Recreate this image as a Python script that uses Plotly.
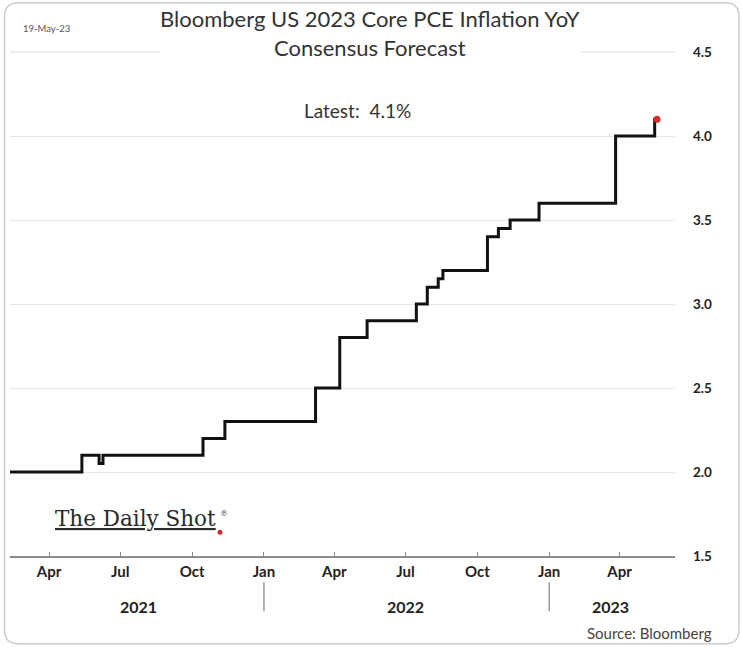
import plotly.graph_objects as go

# ---- data ----
dates = ["2021-02-10", "2021-05-13", "2021-06-04", "2021-06-09", "2021-10-15",
         "2021-11-12", "2022-03-08", "2022-04-08", "2022-05-13", "2022-07-15",
         "2022-07-29", "2022-08-12", "2022-08-18", "2022-10-14", "2022-10-28",
         "2022-11-12", "2022-12-19", "2023-03-27", "2023-05-16", "2023-05-19"]
values = [2.0, 2.1, 2.05, 2.1, 2.2, 2.3, 2.5, 2.8, 2.9, 3.0,
          3.1, 3.15, 3.2, 3.4, 3.45, 3.5, 3.6, 4.0, 4.1, 4.1]

x_tickvals = ["2021-04-01", "2021-07-01", "2021-10-01", "2022-01-01", "2022-04-01",
              "2022-07-01", "2022-10-01", "2023-01-01", "2023-04-01"]
x_ticktext = ["Apr", "Jul", "Oct", "Jan", "Apr", "Jul", "Oct", "Jan", "Apr"]
y_tickvals = [1.5, 2.0, 2.5, 3.0, 3.5, 4.0, 4.5]
years = ["2021", "2022", "2023"]
year_pos = ["2021-07-25", "2022-07-01", "2023-03-21"]
year_breaks = ["2022-01-01", "2023-01-01"]

# ---- layout geometry (pixels) ----
W, H = 742, 650
L, R, T, B = 10, 675, 51.7, 555.7


def px(x):
    return (x - L) / (R - L)


def py(y):
    return (B - y) / (B - T)


FONT = "Lato"

fig = go.Figure()
fig.add_trace(go.Scatter(x=dates, y=values, mode="lines",
                         line=dict(color="#111111", width=3, shape="hv"),
                         hoverinfo="skip", showlegend=False))
fig.add_trace(go.Scatter(x=[dates[-1]], y=[values[-1]], mode="markers",
                         marker=dict(color="#d62c2c", size=7),
                         hoverinfo="skip", showlegend=False))

fig.update_layout(
    width=W, height=H,
    margin=dict(l=L, r=W - R, t=T, b=H - B),
    paper_bgcolor="white", plot_bgcolor="white",
    font=dict(family=FONT, color="#222222"),
    xaxis=dict(range=["2021-02-10", "2023-06-11"], tickvals=x_tickvals, ticktext=x_ticktext,
               showgrid=False, showline=True, linecolor="#8a8a8a", linewidth=1.5,
               ticks="inside", ticklen=4, tickcolor="#8a8a8a", ticklabelstandoff=1,
               tickfont=dict(size=15, weight="bold", color="#222222"), zeroline=False),
    yaxis=dict(range=[1.5, 4.5], side="right", tickvals=y_tickvals, tickformat=".1f",
               showgrid=True, gridcolor="#e6e6e6", gridwidth=1, zeroline=False,
               showline=False, ticks="", ticklabelstandoff=17,
               tickfont=dict(size=13.5, weight="bold", color="#222222")),
)

ann = []
ann.append(dict(xref="paper", yref="paper", x=px(370), y=py(18),
                text="Bloomberg US 2023 Core PCE Inflation YoY",
                showarrow=False, font=dict(size=22, color="#333333", family=FONT),
                xanchor="center", yanchor="middle"))
ann.append(dict(xref="paper", yref="paper", x=px(370), y=py(47),
                text="Consensus Forecast",
                showarrow=False, font=dict(size=22, color="#333333", family=FONT),
                xanchor="center", yanchor="middle"))
ann.append(dict(xref="paper", yref="paper", x=px(46), y=py(28), text="19-May-23",
                showarrow=False, font=dict(size=9.5, color="#555555", family=FONT),
                xanchor="center", yanchor="middle"))
ann.append(dict(xref="paper", yref="paper", x=px(357), y=py(110), text="Latest:&nbsp; 4.1%",
                showarrow=False, font=dict(size=19, color="#333333", family=FONT),
                xanchor="center", yanchor="middle"))
ann.append(dict(xref="paper", yref="paper", x=px(53), y=py(518), xanchor="left", yanchor="middle",
                text="<u>The Daily Shot</u>", showarrow=False,
                font=dict(size=21.5, color="#2a2a2a", family="DejaVu Serif")))
ann.append(dict(xref="paper", yref="paper", x=px(224), y=py(513), text="®",
                xanchor="center", yanchor="middle",
                showarrow=False, font=dict(size=8, color="#333333", family="DejaVu Serif")))
ann.append(dict(xref="paper", yref="paper", x=px(714), y=py(633), xanchor="right", yanchor="middle",
                text="Source: Bloomberg", showarrow=False,
                font=dict(size=15, color="#444444", family=FONT)))
for yr, pos in zip(years, year_pos):
    ann.append(dict(xref="x", yref="paper", x=pos, y=py(606), text=yr, showarrow=False,
                    xanchor="center", yanchor="middle",
                    font=dict(size=16, weight="bold", color="#222222", family=FONT)))
fig.update_layout(annotations=ann)

shapes = []
# top gridline (plotly omits gridlines on the range edge)
shapes.append(dict(type="line", xref="paper", yref="paper", x0=0, x1=1, y0=1, y1=1,
                   line=dict(color="#e2e2e2", width=1.2), layer="above"))
# white block behind the title
shapes.append(dict(type="rect", xref="paper", yref="paper", x0=px(160), x1=px(580),
                   y0=py(62), y1=py(5), fillcolor="white", line=dict(width=0), layer="above"))
for b in year_breaks:
    shapes.append(dict(type="line", xref="x", yref="paper", x0=b, x1=b,
                       y0=py(582), y1=py(611), line=dict(color="#666666", width=1)))
# red dot of logo
shapes.append(dict(type="circle", xref="paper", yref="paper",
                   x0=px(217.5), x1=px(222.5), y0=py(534.5), y1=py(529.5),
                   fillcolor="#d62c2c", line=dict(width=0)))
# rounded outer border
x0, x1, y0, y1, r = 4.5, 739, 2.5, 643.5, 14
path = (f"M {px(x0 + r)},{py(y0)} L {px(x1 - r)},{py(y0)} Q {px(x1)},{py(y0)} {px(x1)},{py(y0 + r)} "
        f"L {px(x1)},{py(y1 - r)} Q {px(x1)},{py(y1)} {px(x1 - r)},{py(y1)} "
        f"L {px(x0 + r)},{py(y1)} Q {px(x0)},{py(y1)} {px(x0)},{py(y1 - r)} "
        f"L {px(x0)},{py(y0 + r)} Q {px(x0)},{py(y0)} {px(x0 + r)},{py(y0)} Z")
shapes.append(dict(type="path", xref="paper", yref="paper", path=path,
                   line=dict(color="#cccccc", width=1.5), layer="below"))
fig.update_layout(shapes=shapes)

fig.write_html("out.html", config={"displayModeBar": False},
               post_script="document.body.style.margin='0px';document.body.style.padding='0px';")
